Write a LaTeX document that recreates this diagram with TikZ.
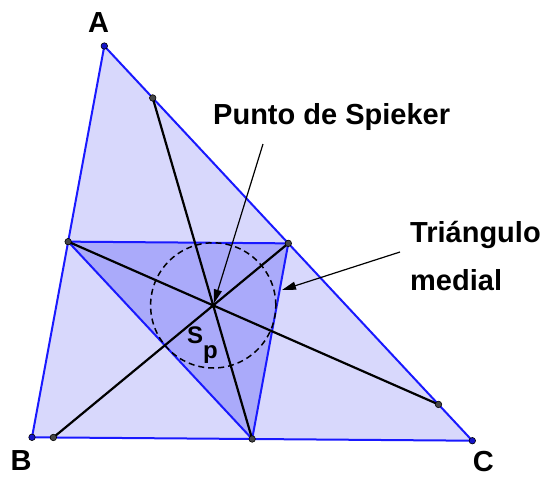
\documentclass[tikz,border=0pt]{standalone}
\usepackage{fontspec}
\setmainfont{Liberation Sans}
\usepackage{tikz}
\usetikzlibrary{calc,arrows.meta}
\definecolor{outerfill}{RGB}{216,216,252}
\definecolor{medialfill}{RGB}{170,170,250}
\definecolor{edgeblue}{RGB}{25,25,255}
\definecolor{dotgray}{RGB}{70,70,70}
\definecolor{vertexblue}{RGB}{20,20,200}

\begin{document}
\begin{tikzpicture}[x=1pt, y=-1pt, >={Triangle[length=14pt,width=8pt]},
		font=\fontsize{29}{35}\selectfont\bfseries,
		edge/.style={draw=edgeblue, line width=2pt, line join=round},
		cleaver/.style={line width=2.2pt},
		pt/.style={circle, draw=black, fill=dotgray, line width=0.6pt, inner sep=0pt, minimum size=6.5pt},
		vpt/.style={pt, fill=vertexblue},
		lbl/.style={inner sep=0pt}]
		\useasboundingbox (0,0) rectangle (547,477);
		\def\rs{62.6pt}
		% ---- triangle ABC and its medial triangle ----
		\coordinate (A) at (104.3,46);
		\coordinate (B) at (32,437.3);
		\coordinate (C) at (472.3,440.7);
		\coordinate (Ma) at ($(B)!0.5!(C)$);
		\coordinate (Mb) at ($(C)!0.5!(A)$);
		\coordinate (Mc) at ($(A)!0.5!(B)$);
		\coordinate (Sp) at (213.2,305.4);
		\filldraw[edge, fill=outerfill] (A) -- (B) -- (C) -- cycle;
		\filldraw[edge, fill=medialfill] (Ma) -- (Mb) -- (Mc) -- cycle;
		% ---- cleavers through the Spieker point ----
		\coordinate (Ka) at (intersection of Ma--Sp and A--C);
		\coordinate (Kb) at (intersection of Mb--Sp and B--C);
		\coordinate (Kc) at (intersection of Mc--Sp and A--C);
		\draw[cleaver] (Ma) -- (Ka);
		\draw[cleaver] (Mb) -- (Kb);
		\draw[cleaver] (Mc) -- (Kc);
		\draw[line width=1.5pt, dash pattern=on 6pt off 4pt] (Sp) circle (\rs);
		% ---- points ----
		\foreach \p in {Ma,Mb,Mc,Ka,Kb,Kc} \node[pt] (d\p) at (\p) {};
		\foreach \p in {A,B,C} \node[vpt] (d\p) at (\p) {};
		\node[circle, fill=black, inner sep=0pt, minimum size=5pt] (dSp) at (Sp) {};
		% ---- labels ----
		\node[lbl, anchor=base] (labA) at (98.7,32.3) {A};
		\node[lbl, anchor=base] (labB) at (21,470) {B};
		\node[lbl, anchor=base] (labC) at (483.3,471) {C};
		\node[lbl, anchor=base west, font=\fontsize{24}{28}\selectfont\bfseries] (labSp) at (187,343.3) {S\raisebox{-15pt}{p}};
		\node[lbl, anchor=base west] (labPunto) at (213,124.3) {Punto de Spieker};
		\node[lbl, anchor=base west, align=left, font=\fontsize{29}{47.3}\selectfont\bfseries] (labMedial) at (410,290) {Triángulo\\medial};
		% ---- pointers ----
		\coordinate (fromPunto) at (263,144);
		\coordinate (fromMedial) at (400,252);
		\coordinate (toMedial) at (282,290);
		\draw[->, line width=1.2pt, shorten >=2pt] (fromPunto) -- (Sp);
		\draw[->, line width=1.2pt] (fromMedial) -- (toMedial);
	\end{tikzpicture}
\end{document}
